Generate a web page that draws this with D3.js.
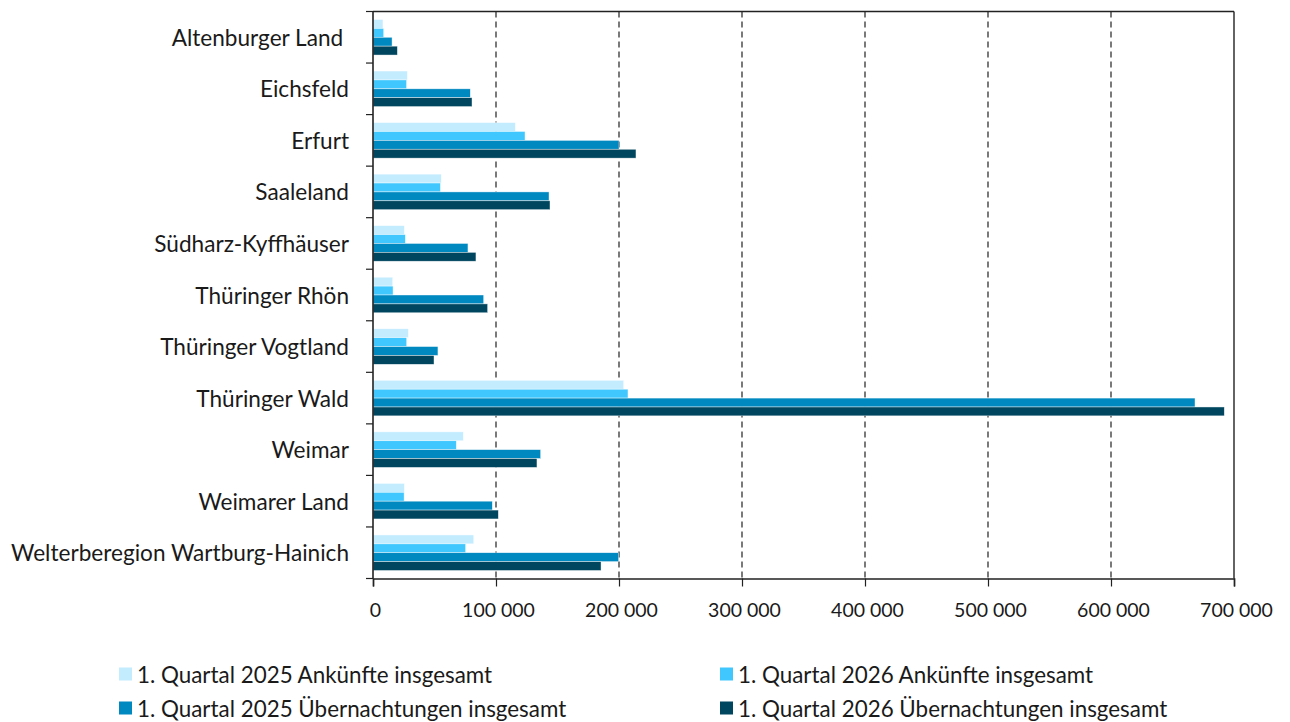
<!DOCTYPE html>
<html>
<head>
<meta charset="utf-8">
<script src="https://cdn.jsdelivr.net/npm/d3@7"></script>
<style>
  html, body { margin: 0; padding: 0; background: #fff; }
  svg { display: block; font-family: "Lato", "Noto Sans", sans-serif; }
</style>
</head>
<body>
<svg id="chart" width="1290" height="722"></svg>
<script>
// ---- data ----
const categories = [
  "Altenburger Land\u00a0",
  "Eichsfeld",
  "Erfurt",
  "Saaleland",
  "Südharz-Kyffhäuser",
  "Thüringer Rhön",
  "Thüringer Vogtland",
  "Thüringer Wald",
  "Weimar",
  "Weimarer Land",
  "Welterberegion Wartburg-Hainich"
];
const seriesNames = [
  "1. Quartal 2025 Ankünfte insgesamt",
  "1. Quartal 2026 Ankünfte insgesamt",
  "1. Quartal 2025 Übernachtungen insgesamt",
  "1. Quartal 2026 Übernachtungen insgesamt"
];
const arrivals2025 = [8100, 27900, 115700, 55500, 25500, 16000, 28700, 203800, 73400, 25500, 81900];
const arrivals2026 = [8700, 27300, 123600, 54800, 26300, 16300, 27400, 207300, 67700, 25300, 75300];
const nights2025   = [15500, 79100, 200000, 143100, 77200, 90000, 52800, 668300, 136300, 97000, 199700];
const nights2026   = [19800, 80500, 213800, 143900, 83700, 93200, 49600, 692100, 133300, 101900, 185400];
const xTicks = [0, 100000, 200000, 300000, 400000, 500000, 600000, 700000];
const colors = ["#c3ecff", "#40c8fe", "#0088c0", "#00465f"];

const seriesValues = [arrivals2025, arrivals2026, nights2025, nights2026];

// ---- layout ----
const svg = d3.select("#chart");
const plotLeft = 373, plotRight = 1234, plotTop = 11.5, plotBottom = 578.5;

const x = d3.scaleLinear().domain([0, 700000]).range([plotLeft, plotRight]);
const y = d3.scaleBand().domain(categories).range([plotTop, plotBottom]).padding(0);
const inner = d3.scaleBand().domain(d3.range(seriesNames.length))
  .range([0, y.bandwidth()]).paddingInner(0).paddingOuter(0.9);

// gridlines (dashed)
svg.append("g").selectAll("line")
  .data(xTicks.filter(t => t > 0 && t < 700000))
  .join("line")
  .attr("x1", d => x(d)).attr("x2", d => x(d))
  .attr("y1", plotTop).attr("y2", plotBottom)
  .attr("stroke", "#222").attr("stroke-width", 1.2)
  .attr("stroke-dasharray", "6,4");

// bars
const groups = svg.append("g").selectAll("g")
  .data(categories)
  .join("g")
  .attr("transform", d => `translate(0,${y(d)})`);

groups.selectAll("rect")
  .data((c, i) => seriesValues.map((vals, s) => ({ s, v: vals[i] })))
  .join("rect")
  .attr("x", x(0))
  .attr("y", d => inner(d.s))
  .attr("width", d => x(d.v) - x(0))
  .attr("height", inner.bandwidth())
  .attr("fill", d => colors[d.s])
  .attr("stroke", "#ffffff")
  .attr("stroke-opacity", 0.7)
  .attr("stroke-width", 0.6);

// frame: top and right borders
svg.append("line").attr("x1", plotLeft).attr("x2", plotRight).attr("y1", plotTop).attr("y2", plotTop)
  .attr("stroke", "#222").attr("stroke-width", 1.4);
svg.append("line").attr("x1", plotRight).attr("x2", plotRight).attr("y1", plotTop).attr("y2", plotBottom)
  .attr("stroke", "#222").attr("stroke-width", 1.4);

// x axis
const xAxis = d3.axisBottom(x).tickValues(xTicks).tickSize(8).tickPadding(17)
  .tickFormat(d => d3.format(",")(d).replace(/,/g, " "));
const gx = svg.append("g").attr("transform", `translate(0,${plotBottom})`).call(xAxis);
gx.select(".domain").attr("stroke", "#222").attr("stroke-width", 1.6);
gx.selectAll(".tick line").attr("stroke", "#222").attr("stroke-width", 1.2);
gx.selectAll(".tick text").attr("font-size", 19.5).attr("fill", "#1a1a1a")
  .attr("font-family", "Lato, sans-serif").attr("dx", 2);

// y axis: line + ticks at category boundaries
svg.append("line").attr("x1", plotLeft).attr("x2", plotLeft).attr("y1", plotTop).attr("y2", plotBottom)
  .attr("stroke", "#222").attr("stroke-width", 1.6);
const boundaries = categories.map(c => y(c)).concat([plotBottom]);
svg.append("g").selectAll("line").data(boundaries).join("line")
  .attr("x1", plotLeft - 7).attr("x2", plotLeft).attr("y1", d => d).attr("y2", d => d)
  .attr("stroke", "#222").attr("stroke-width", 1.2);

// category labels
svg.append("g").selectAll("text").data(categories).join("text")
  .attr("x", 349)
  .attr("y", d => y(d) + y.bandwidth() / 2)
  .attr("text-anchor", "end")
  .attr("dominant-baseline", "central")
  .attr("font-size", 22.6)
  .attr("fill", "#1a1a1a")
  .style("white-space", "pre")
  .text(d => d);

// legend
const legendPos = [[119, 674], [720, 674], [119, 708], [720, 708]];
const lg = svg.append("g").selectAll("g").data(seriesNames).join("g")
  .attr("transform", (d, i) => `translate(${legendPos[i][0]},${legendPos[i][1]})`);
lg.append("rect").attr("x", 0).attr("y", -6.5).attr("width", 13).attr("height", 13)
  .attr("fill", (d, i) => colors[i]);
lg.append("text").attr("x", 18).attr("y", 0).attr("dominant-baseline", "central")
  .attr("font-size", 22.4).attr("fill", "#1a1a1a").text(d => d);
</script>
</body>
</html>
